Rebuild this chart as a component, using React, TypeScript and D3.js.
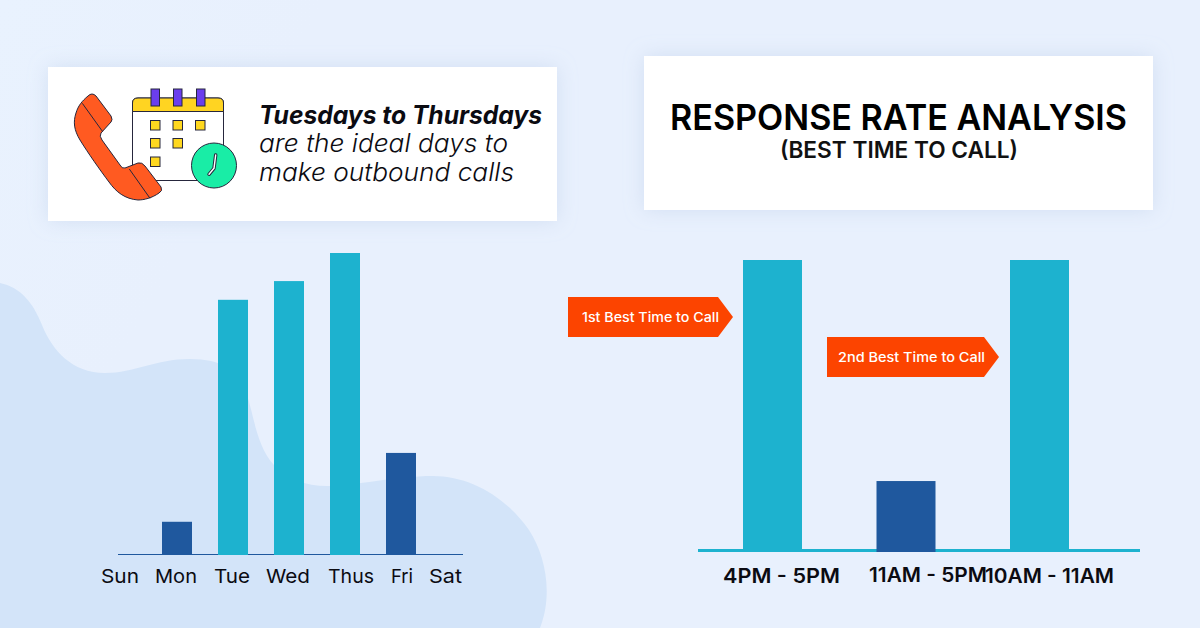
import React from 'react';
import * as d3 from 'd3';

const days = ['Sun', 'Mon', 'Tue', 'Wed', 'Thus', 'Fri', 'Sat'];
const dayValues = [0, 11, 84.5, 90.7, 100, 33.8, 0];
const dayTone = ['low', 'low', 'high', 'high', 'high', 'low', 'low'];
const dayLabelX = [120, 176, 232, 288, 351, 402, 445.5];
const dayLabelW = [38, 42, 36, 44, 46, 22, 33];
const slots = ['4PM - 5PM', '11AM - 5PM', '10AM - 11AM'];
const slotValues = [100, 24.3, 100];
const slotTone = ['high', 'low', 'high'];
const slotLabelX = [781.5, 928, 1049.5];
const slotLabelW = [117, 118, 129];

const BLOB = '#D3E4F9';
const TEAL = '#1DB2CF';
const NAVY = '#1F589E';
const ORANGE = '#FC4400';
const FONT = 'Inter, "Noto Sans", sans-serif';
const INK = '#0B0B12';

const blobPath = 'M0,283 C20,287 33,302 42,325 C52,350 72,373 105,373 C135,373 155,359 190,359 C222,359 238,370 246,392 C254,415 256,445 274,465 C286,479 306,486 327,486 C355,486 395,476 433,476 C470,476 506,497 529,530 C546,556 553,595 540,628 L0,628 Z';

function Arrow({ x, y, w, h, label, tx, tw }: { x: number; y: number; w: number; h: number; label: string; tx: number; tw: number }) {
  const tip = 15;
  return (
    <g>
      <polygon points={[[x, y], [x + w - tip, y], [x + w, y + h / 2], [x + w - tip, y + h], [x, y + h]].map((p) => p.join(',')).join(' ')} fill={ORANGE} />
      <text x={tx} y={y + h / 2 + 4.6} fontSize={13} fontWeight={500} fill="#fff" fontFamily={FONT} textLength={tw} lengthAdjust="spacingAndGlyphs">{label}</text>
    </g>
  );
}

function Icon() {
  const cells: [number, number][] = [[150.5, 120.5], [173, 120.5], [195.5, 120.5], [150.5, 138.5], [173, 138.5], [150.5, 157]];
  const stroke = '#26263C';
  const hand = 'M215.7,155 L214,168.3 L209,174.3';
  return (
    <g stroke={stroke} strokeWidth={1}>
      <path d="M132.5,103 Q132.5,98 138,98 L218,98 Q223.5,98 223.5,103 L223.5,180.5 L132.5,180.5 Z" fill="#fff" />
      <path d="M132.5,111.5 L132.5,103 Q132.5,98 138,98 L218,98 Q223.5,98 223.5,103 L223.5,111.5 Z" fill="#FFD422" />
      {[151, 173.5, 196.5].map((x) => <rect key={x} x={x} y={89} width={8.5} height={17} fill="#6B3EEE" />)}
      {cells.map(([x, y]) => <rect key={`${x}-${y}`} x={x} y={y} width={9.5} height={9.5} fill="#FFD81F" />)}
      <path d="M88,96 Q92,92 96,96 L111,116 Q113,120 111,122 L101,133 Q99,136 102,140 L120,165 Q122,169 125,168 L138,163 Q142,162 145,166 L161,187 Q163,191 159,193 C152,198 144,200 138,200 C125,199 116,192 109,182 C100,170 88,153 80,140 C74,130 73,122 76,113 C78,106 82,101 88,96 Z" fill="#FF5A21" />
      <path d="M82.3,103.3 L102.7,131.7 M129.3,169 L150,198.3" fill="none" />
      <circle cx={214} cy={165.5} r={22.5} fill="#19EDA6" />
      <path d={hand} fill="none" stroke={stroke} strokeWidth={3.4} strokeLinecap="round" strokeLinejoin="round" />
      <path d={hand} fill="none" stroke="#fff" strokeWidth={1.4} strokeLinecap="round" strokeLinejoin="round" />
    </g>
  );
}

export default function App() {
  const xDay = d3.scaleBand().domain(days).range([93, 485]).paddingInner(0);
  const yDay = d3.scaleLinear().domain([0, 100]).range([555, 253]);
  const xSlot = d3.scalePoint().domain(slots).range([743, 1010]);
  const ySlot = d3.scaleLinear().domain([0, 100]).range([552, 260]);
  const dayW = 30;
  const slotW = 59;
  return (
    <svg width={1200} height={628} viewBox="0 0 1200 628" style={{ position: 'absolute', left: 0, top: 0, display: 'block' }}>
      <defs>
        <filter id="sh" x="-10%" y="-30%" width="120%" height="160%">
          <feDropShadow dx={0} dy={0} stdDeviation={10} floodColor="#A9BEDF" floodOpacity={0.35} />
        </filter>
        <linearGradient id="bg" x1="0" y1="0" x2="1" y2="0.3">
          <stop offset="0" stopColor="#E9F2FE" />
          <stop offset="0.25" stopColor="#E8F0FD" />
          <stop offset="1" stopColor="#E8F0FD" />
        </linearGradient>
      </defs>
      <rect width={1200} height={628} fill="url(#bg)" />
      <path d={blobPath} fill={BLOB} />

      <rect x={48} y={67} width={509} height={154} fill="#fff" filter="url(#sh)" />
      <rect x={644} y={56} width={509} height={154} fill="#fff" filter="url(#sh)" />
      <Icon />
      <g fontFamily={FONT} fontSize={25} fill={INK}>
        <text x={259} y={124} fontWeight={700} fontStyle="italic" textLength={283} lengthAdjust="spacingAndGlyphs">Tuesdays to Thursdays</text>
        <text x={259} y={152} fontStyle="italic" fontWeight={300} textLength={249} lengthAdjust="spacingAndGlyphs">are the ideal days to</text>
        <text x={259} y={181} fontStyle="italic" fontWeight={300} textLength={255} lengthAdjust="spacingAndGlyphs">make outbound calls</text>
      </g>
      <text x={898.5} y={130} textAnchor="middle" fontFamily={FONT} fontSize={36} fontWeight={600} fill="#000" textLength={457} lengthAdjust="spacingAndGlyphs">RESPONSE RATE ANALYSIS</text>
      <text x={899} y={158} textAnchor="middle" fontFamily={FONT} fontSize={23} fontWeight={600} fill="#111" textLength={238} lengthAdjust="spacingAndGlyphs">(BEST TIME TO CALL)</text>

      <line x1={118} x2={463} y1={554.5} y2={554.5} stroke={NAVY} strokeWidth={1} />
      {days.map((d, i) => dayValues[i] > 0 && (
        <rect key={d} x={xDay(d)! + xDay.bandwidth() / 2 - dayW / 2} y={yDay(dayValues[i])} width={dayW} height={yDay(0) - yDay(dayValues[i])} fill={dayTone[i] === 'high' ? TEAL : NAVY} />
      ))}
      {days.map((d, i) => (
        <text key={d} x={dayLabelX[i]} y={583} textAnchor="middle" fontFamily={FONT} fontSize={19} fill={INK} textLength={dayLabelW[i]} lengthAdjust="spacingAndGlyphs">{d}</text>
      ))}

      <rect x={698} y={549} width={442} height={3} fill={TEAL} />
      {slots.map((s, i) => (
        <rect key={s} x={xSlot(s)!} y={ySlot(slotValues[i])} width={slotW} height={ySlot(0) - ySlot(slotValues[i])} fill={slotTone[i] === 'high' ? TEAL : NAVY} />
      ))}
      {slots.map((s, i) => (
        <text key={s} x={slotLabelX[i]} y={i === 1 ? 582 : 583} textAnchor="middle" fontFamily={FONT} fontSize={20} fontWeight={600} fill={INK} textLength={slotLabelW[i]} lengthAdjust="spacingAndGlyphs">{s}</text>
      ))}

      <Arrow x={568} y={297} w={165} h={40} label="1st Best Time to Call" tx={582} tw={137} />
      <Arrow x={827} y={337} w={172} h={40} label="2nd Best Time to Call" tx={838} tw={147} />
    </svg>
  );
}
